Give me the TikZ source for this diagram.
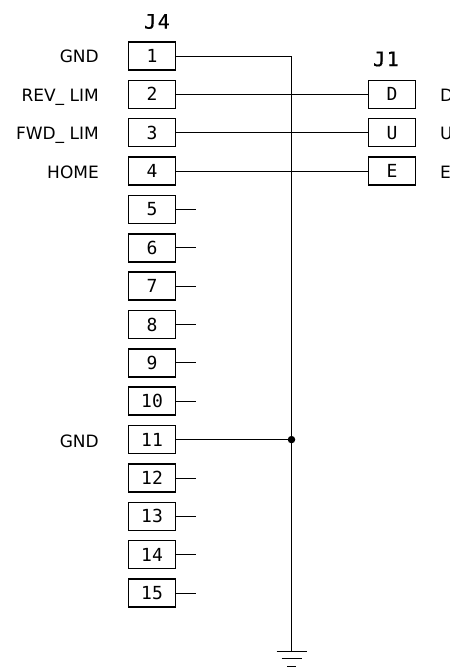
\documentclass[tikz,border=0pt]{standalone}
\usepackage{fontspec}
\usepackage{xcolor}
\setmainfont{DejaVu Sans}
\newfontfamily\pinfont{DejaVu Sans Mono}
\newfontfamily\titlefont[LetterSpace=8,FakeBold=0.6]{DejaVu Sans Mono}
\usetikzlibrary{positioning}

\begin{document}
\begin{tikzpicture}[
  x=1pt, y=-1pt,
  pin/.style={draw, line width=1.5pt, minimum width=47pt, minimum height=28pt, inner sep=0pt, text height=13pt, text depth=0pt, font=\pinfont\fontsize{18}{18}\selectfont},
  signal/.style={inner sep=0pt, text height=13pt, text depth=0pt, font=\fontsize{17}{17}\selectfont},
  title/.style={inner sep=0pt, font=\titlefont\fontsize{20}{20}\selectfont},
  wire/.style={line width=0.9pt},
  junction/.style={circle, fill=black, inner sep=0pt, minimum size=7.5pt}
]
\useasboundingbox (0,0) rectangle (449,668);
\clip (0,0) rectangle (449,668);

\node[title] (j4) at (157,21.5) {J4};
\node[title] (j1) at (386,59) {J1};

\node[pin] (p1) at (152,56) {1};
\node[pin] (p2) at (152,94.4) {2};
\node[pin] (p3) at (152,132.7) {3};
\node[pin] (p4) at (152,171.1) {4};
\node[pin] (p5) at (152,209.4) {5};
\node[pin] (p6) at (152,247.8) {6};
\node[pin] (p7) at (152,286.2) {7};
\node[pin] (p8) at (152,324.5) {8};
\node[pin] (p9) at (152,362.9) {9};
\node[pin] (p10) at (152,401.2) {10};
\node[pin] (p11) at (152,439.6) {11};
\node[pin] (p12) at (152,478) {12};
\node[pin] (p13) at (152,516.3) {13};
\node[pin] (p14) at (152,554.7) {14};
\node[pin] (p15) at (152,593) {15};

\node[pin] (d) at (392,94.4) {D};
\node[pin] (u) at (392,132.7) {U};
\node[pin] (e) at (392,171.1) {E};

\node[signal, anchor=east] (gnd1) at (99,56.5) {GND};
\node[signal, anchor=east] (rev) at (99,95) {REV\_ LIM};
\node[signal, anchor=east] (fwd) at (99,133.5) {FWD\_ LIM};
\node[signal, anchor=east] (home) at (99,172) {HOME};
\node[signal, anchor=east] (gnd11) at (99,440.5) {GND};

\node[signal, anchor=west] (dname) at (440,95) {D};
\node[signal, anchor=west] (uname) at (440,133.5) {U};
\node[signal, anchor=west] (ename) at (440,172) {E};

\coordinate (earth) at (291.5,651);
\node[junction] (tie) at (291.5,439.6) {};

\draw[wire] (p1.east) -| (earth);
\draw[wire] (p2.east) -- (d.west);
\draw[wire] (p3.east) -- (u.west);
\draw[wire] (p4.east) -- (e.west);
\draw[wire] (p11.east) -- (tie);

\draw[wire] (p5.east) -- ++(20,0);
\draw[wire] (p6.east) -- ++(20,0);
\draw[wire] (p7.east) -- ++(20,0);
\draw[wire] (p8.east) -- ++(20,0);
\draw[wire] (p9.east) -- ++(20,0);
\draw[wire] (p10.east) -- ++(20,0);
\draw[wire] (p12.east) -- ++(20,0);
\draw[wire] (p13.east) -- ++(20,0);
\draw[wire] (p14.east) -- ++(20,0);
\draw[wire] (p15.east) -- ++(20,0);

\draw[wire] ([xshift=-15pt]earth) -- ([xshift=15pt]earth);
\draw[wire] ([xshift=-10pt,yshift=-7.5pt]earth) -- ([xshift=10pt,yshift=-7.5pt]earth);
\draw[wire] ([xshift=-4.5pt,yshift=-15pt]earth) -- ([xshift=4.5pt,yshift=-15pt]earth);
\end{tikzpicture}
\end{document}
